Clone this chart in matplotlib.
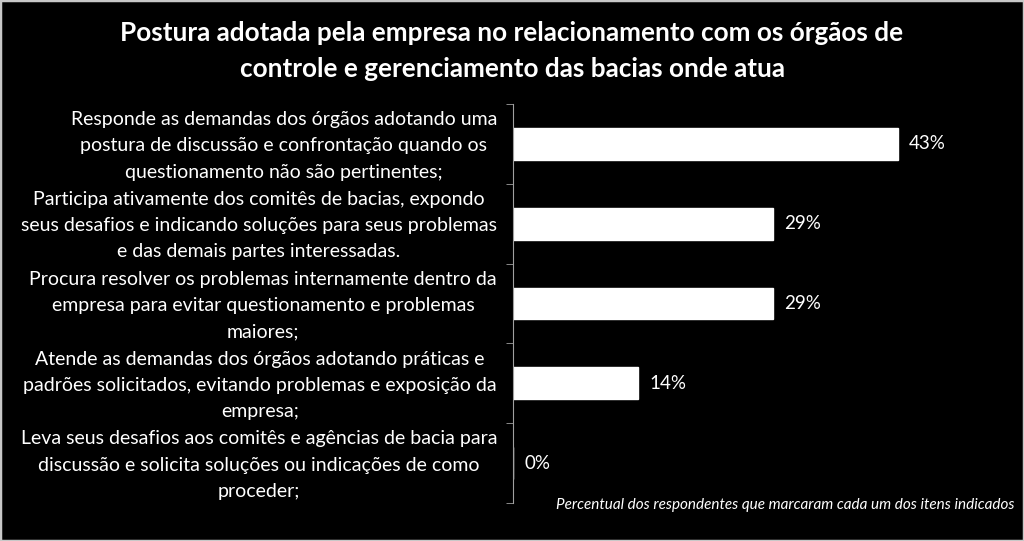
import matplotlib
matplotlib.use("Agg")
import matplotlib.pyplot as plt
import matplotlib.transforms as mtransforms
from matplotlib.patches import Rectangle

categories = [
    "Responde as demandas dos órgãos adotando uma\npostura de discussão e confrontação quando os\nquestionamento não são pertinentes;",
    "Participa ativamente dos comitês de bacias, expondo\nseus desafios e indicando soluções para seus problemas\ne das demais partes interessadas.",
    "Procura resolver os problemas internamente dentro da\nempresa para evitar questionamento e problemas\nmaiores;",
    "Atende as demandas dos órgãos adotando práticas e\npadrões solicitados, evitando problemas e exposição da\nempresa;",
    "Leva seus desafios aos comitês e agências de bacia para\ndiscussão e solicita soluções ou indicações de como\nproceder;",
]
values = [0.43, 0.29, 0.29, 0.14, 0.0]
value_labels = ["43%", "29%", "29%", "14%", "0%"]
title = "Postura adotada pela empresa no relacionamento com os órgãos de\ncontrole e gerenciamento das bacias onde atua"
note = "Percentual dos respondentes que marcaram cada um dos itens indicados"

FONT = ["Lato", "DejaVu Sans"]
plt.rcParams["font.family"] = FONT

fig = plt.figure(figsize=(10.24, 5.41), dpi=100, facecolor="black")
fig.patches.append(Rectangle((0, 0), 1, 1, transform=fig.transFigure, fill=False,
                             edgecolor="#c8c8c8", linewidth=2.5, zorder=10))
ax = fig.add_axes([0.501, 0.0702, 0.4372, 0.7376], facecolor="black")

pos = list(range(len(categories)))
ax.barh(pos, values, height=0.4, color="white", edgecolor="white")
ax.set_xlim(0, 0.5)
ax.set_ylim(len(categories) - 0.5, -0.5)

for p, v, lab in zip(pos, values, value_labels):
    ax.annotate(lab, (v, p), xytext=(8, 0), textcoords="offset points",
                va="center", ha="left", color="white", fontsize=13.5)

ax.set_yticks(pos)
ax.set_yticklabels(categories, multialignment="center", linespacing=1.66)
ax.tick_params(axis="y", which="major", length=0, pad=11.5, labelcolor="white", labelsize=14)
shift = mtransforms.ScaledTranslation(0, 3 / 72, fig.dpi_scale_trans)
for lbl in ax.get_yticklabels():
    lbl.set_transform(lbl.get_transform() + shift)
ax.set_yticks([p - 0.5 for p in pos] + [len(pos) - 0.5], minor=True)
ax.tick_params(axis="y", which="minor", length=5, color="#a0a0a0", direction="out")
ax.set_xticks([])
for s in ["top", "right", "bottom"]:
    ax.spines[s].set_visible(False)
ax.spines["left"].set_color("#a0a0a0")

fig.text(0.5, 0.905, title, ha="center", va="center", color="white",
         fontsize=18.8, fontweight="bold", linespacing=1.6)
fig.text(0.991, 0.066, note, ha="right", va="center", color="white",
         fontsize=11, style="italic")

fig.savefig("out.png", dpi=100, facecolor="black")
